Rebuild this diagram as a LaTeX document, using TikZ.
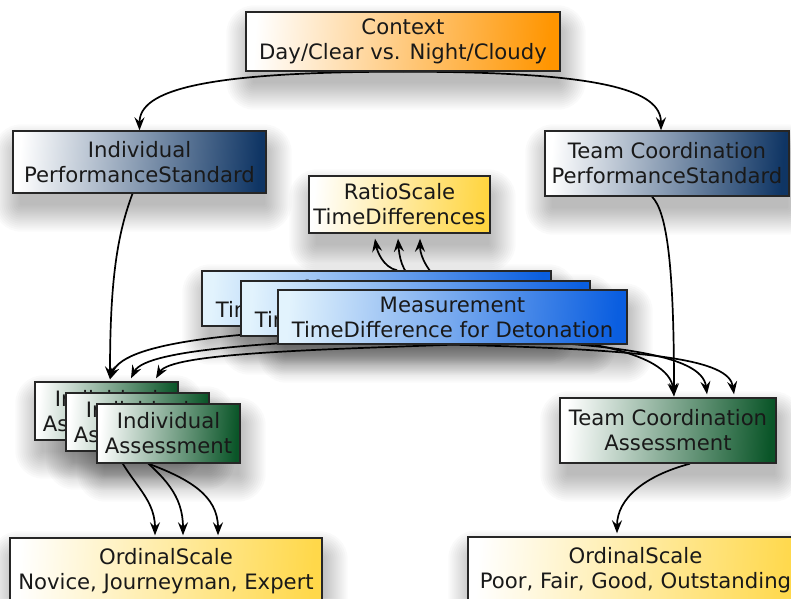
\documentclass[tikz,border=0pt]{standalone}
\usepackage{fontspec}
\setmainfont{DejaVu Sans}
\usetikzlibrary{arrows.meta}

\pgfdeclarelayer{shadow}
\pgfdeclarelayer{edges}
\pgfsetlayers{shadow,edges,main}

\definecolor{ctxorange}{HTML}{FF9500}
\definecolor{stdnavy}{HTML}{0F3564}
\definecolor{ratioyellow}{HTML}{FFD540}
\definecolor{measblue}{HTML}{0A5EE0}
\definecolor{measlight}{HTML}{E2F3FD}
\definecolor{assgreen}{HTML}{0A5528}
\definecolor{ordyellow}{HTML}{FFD84A}

\tikzset{
  box/.style 2 args={draw=black!85, line width=1.4pt, align=center,
    text=black!90, font=\fontsize{21.2}{25}\selectfont, inner sep=0pt,
    minimum width=#1 pt, minimum height=#2 pt},
  grad/.style={left color=white, middle color=#1!28!white, right color=#1, shading angle=86},
  measgrad/.style={left color=measlight, middle color=measblue!30!measlight, right color=measblue, shading angle=86},
  arr/.style={-{Stealth[length=13pt,width=10pt,inset=4.5pt]}, line width=1.7pt, black},
}

% soft drop shadow under a named node
\newcommand\boxshadow[1]{%
  \foreach \shk in {0,...,13}{%
    \pgfmathsetmacro\shs{2*\shk-4}%
    \pgfmathsetmacro\shr{max(1,\shs+6)}%
    \fill[black, opacity=0.018, rounded corners=\shr pt]
      ([shift={(3-\shs,16-\shs)}]#1.north west) rectangle
      ([shift={(3+\shs,16+\shs)}]#1.south east);
  }}

\begin{document}
\begin{tikzpicture}[x=1pt,y=-1pt]
\useasboundingbox (0,0) rectangle (791,598);

% boxes
\node[box={314}{59}, grad=ctxorange] (ctx) at (403,41.5) {Context\\Day/Clear vs. Night/Cloudy};
\node[box={253}{62}, grad=stdnavy] (ips) at (139.5,162) {Individual\\PerformanceStandard};
\node[box={244}{65}, grad=stdnavy] (tps) at (667,163.5) {Team Coordination\\PerformanceStandard};
\node[box={181}{57}, grad=ratioyellow] (ratio) at (399.5,204.5) {RatioScale\\TimeDifferences};

\node[box={349}{55}, measgrad] (m1) at (376.5,298.5) {\raisebox{-3pt}{Measurement}\\TimeDifference for Detonation};
\node[box={349}{55}, measgrad] (m2) at (415.5,308.5) {\raisebox{-3pt}{Measurement}\\TimeDifference for Detonation};
\node[box={349}{54}, measgrad] (m3) at (452.5,317) {Measurement\\TimeDifference for Detonation};

\node[box={143}{58}, grad=assgreen] (ia1) at (106.5,411) {Individual\\Assessment};
\node[box={143}{58}, grad=assgreen] (ia2) at (137.5,422) {Individual\\Assessment};
\node[box={143}{59}, grad=assgreen] (ia3) at (168.5,433.5) {Individual\\Assessment};
\node[box={216}{65}, grad=assgreen] (ta) at (668,430.5) {Team Coordination\\Assessment};

\node[box={312}{66}, grad=ordyellow] (on) at (166,571) {OrdinalScale\\Novice, Journeyman, Expert};
\node[box={335}{67}, grad=ordyellow] (op) at (635.5,570.5) {OrdinalScale\\Poor, Fair, Good, Outstanding};

% shadows
\begin{pgfonlayer}{shadow}
  \fill[white] (0,0) rectangle (791,598);
  \foreach \nm in {ctx,ips,tps,ratio,m1,m2,m3,ia1,ia2,ia3,ta,on,op}{\boxshadow{\nm}}
\end{pgfonlayer}

% connectors
\begin{pgfonlayer}{edges}
  \draw[arr] (ctx.south) .. controls +(-200,0) and +(0,-40) .. (ips.north);
  \draw[arr] (ctx.south) .. controls +(200,0) and +(0,-40) .. ([xshift=-6pt]tps.north);

  \draw[arr] ([xshift=-7pt]ips.south) .. controls +(-15,40) and +(0,-100) .. ([xshift=3.5pt,yshift=2pt]ia1.north);
  \draw[arr] ([xshift=-15pt]tps.south) .. controls +(15,15) and +(0,-130) .. ([xshift=6pt,yshift=1pt]ta.north);

  \draw[arr] ([xshift=20.5pt]m1.north) .. controls +(-14,-3) and +(2,12) .. ([xshift=-24.5pt,yshift=-5pt]ratio.south);
  \draw[arr] ([xshift=1.5pt]m2.north) .. controls +(-16,-5) and +(1,14) .. ([xshift=-1.5pt,yshift=-5pt]ratio.south);
  \draw[arr] ([xshift=0.5pt]m3.north) .. controls +(-20,-8) and +(0,20) .. ([xshift=20.5pt,yshift=-5pt]ratio.south);

  \draw[arr] (m1.south) .. controls +(-120,5) and +(15,-40) .. ([xshift=3.5pt,yshift=2pt]ia1.north);
  \draw[arr] (m2.south) .. controls +(-130,5) and +(15,-30) .. ([xshift=24.5pt,yshift=3pt]ia1.north);
  \draw[arr] (m3.south) .. controls +(-140,5) and +(15,-25) .. ([xshift=49.5pt,yshift=3pt]ia1.north);

  \draw[arr] (m1.south) .. controls +(200,5) and +(-5,-45) .. ([xshift=6pt,yshift=1pt]ta.north);
  \draw[arr] (m2.south) .. controls +(200,5) and +(-5,-40) .. ([xshift=39pt,yshift=3pt]ta.north);
  \draw[arr] (m3.south) .. controls +(200,5) and +(-5,-35) .. ([xshift=66pt,yshift=3pt]ta.north);

  \draw[arr] ([xshift=5pt]ia1.south) .. controls +(15,40) and +(0,-40) .. ([xshift=-11pt,yshift=2pt]on.north);
  \draw[arr] ([xshift=-3pt]ia2.south) .. controls +(30,25) and +(0,-40) .. ([xshift=17pt,yshift=2pt]on.north);
  \draw[arr] ([xshift=-20pt]ia3.south) .. controls +(40,15) and +(0,-40) .. ([xshift=52pt,yshift=2pt]on.north);

  \draw[arr] ([xshift=22pt]ta.south) .. controls +(-45,12) and +(0,-35) .. ([xshift=-18.5pt,yshift=3pt]op.north);
\end{pgfonlayer}
\end{tikzpicture}
\end{document}
